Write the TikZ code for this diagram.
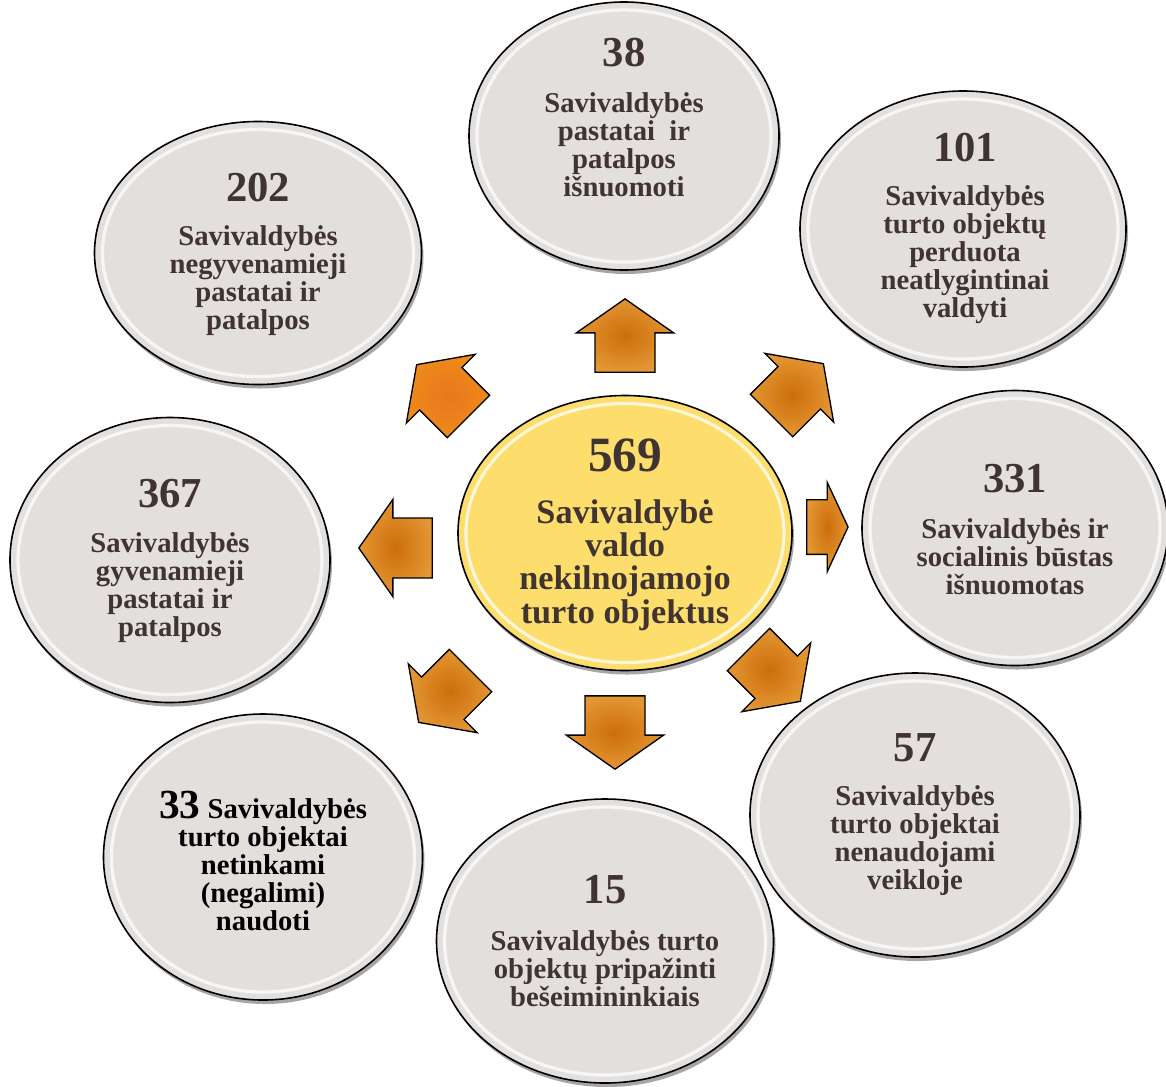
\documentclass[tikz,border=0pt]{standalone}
\usepackage{fontspec}
\setmainfont{Liberation Serif}
\usetikzlibrary{shapes.geometric,shapes.arrows,shadows}

\definecolor{bubgray}{RGB}{227,223,221}
\definecolor{bubyellow}{RGB}{253,221,108}
\definecolor{txtbrown}{RGB}{64,52,50}
\definecolor{arrorange}{RGB}{203,110,10}
\definecolor{arrlight}{RGB}{228,150,52}
\definecolor{arrbright}{RGB}{234,118,30}

\begin{document}
\begin{tikzpicture}[
  x=0.75pt, y=-0.75pt,
  text=txtbrown,
  bub/.style 2 args={ellipse, draw=black, line width=1.2pt, fill=bubgray, inner sep=0pt,
              minimum width=#1*0.75pt, minimum height=#2*0.75pt,
              drop shadow={shadow xshift=1.5pt, shadow yshift=-3pt, opacity=.35, fill=black},
              path picture={\draw[white, line width=2.4pt, opacity=.75]
                (path picture bounding box.center) ellipse [x radius=#1*0.375pt-6pt, y radius=#2*0.375pt-6pt];}},
  num/.style={font=\fontsize{32}{32}\bfseries\selectfont, inner sep=0pt},
  lbl/.style={font=\fontsize{21.5}{21}\bfseries\selectfont, align=center, inner sep=0pt},
  cnum/.style={font=\fontsize{37}{37}\bfseries\selectfont, inner sep=0pt},
  clbl/.style={font=\fontsize{25.7}{25}\bfseries\selectfont, align=center, inner sep=0pt},
  arr/.style={single arrow, draw=black, line width=1pt, inner xsep=0pt, inner ysep=22pt,
              single arrow head extend=14pt, single arrow tip angle=110, minimum height=55pt,
              inner color=arrorange, outer color=arrlight},
  arrflat/.style={arr, inner ysep=20pt, single arrow head extend=13pt,
              single arrow tip angle=130, minimum height=31pt},
]
\useasboundingbox (0,0) rectangle (1166,1086);

% ---------------- Outer ellipses ----------------
\node[bub={310}{268}] (e38)  at (624,136) {};
\node[bub={326}{276}] (e101) at (963,229) {};
\node[bub={327}{263}] (e202) at (258,253) {};
\node[bub={306}{275}] (e331) at (1015,528) {};
\node[bub={320}{285}] (e367) at (170,560) {};
\node[bub={330}{284}] (e57)  at (915,815) {};
\node[bub={337}{284}] (e15)  at (605,941) {};
\node[bub={319}{286}] (e33)  at (263,857) {};

% ---------------- Centre ----------------
\node[bub={334}{275}, fill=bubyellow] (emain) at (625,533) {};
\node[cnum] (n569) at (625,455) {569};
\node[clbl] (t569) at (625,565) {Savivaldybė\\valdo\\nekilnojamojo\\turto objektus};

% ---------------- Arrows ----------------
\node[arr, rotate=90]   (aN)  at (625,346) {};
\node[arr, rotate=45]   (aNE) at (790,397) {};
\node[arrflat]          (aE)  at (821,527) {};
\node[arr, rotate=-45]  (aSE) at (767,668) {};
\node[arr, rotate=-90]  (aS)  at (615,722) {};
\node[arr, rotate=-135] (aSW) at (452,689) {};
\node[arr, rotate=180]  (aW)  at (406,548) {};
\node[arr, rotate=135, inner color=arrbright, outer color=arrbright!85!yellow] (aNW) at (450,398) {};

% ---------------- Labels ----------------
\node[num] (n38)  at (624,53)  {38};
\node[lbl] (t38)  at (624,145) {Savivaldybės\\pastatai~ ir\\patalpos\\išnuomoti};
\node[num] (n101) at (965,148) {101};
\node[lbl] (t101) at (965,255) {Savivaldybės\\turto objektų\\perduota\\neatlygintinai\\valdyti};
\node[num] (n202) at (258,188) {202};
\node[lbl] (t202) at (258,281) {Savivaldybės\\negyvenamieji\\pastatai ir\\patalpos};
\node[num] (n331) at (1015,479) {331};
\node[lbl] (t331) at (1015,557) {Savivaldybės ir\\socialinis būstas\\išnuomotas};
\node[num] (n367) at (170,494) {367};
\node[lbl] (t367) at (170,588) {Savivaldybės\\gyvenamieji\\pastatai ir\\patalpos};
\node[num] (n57)  at (915,748) {57};
\node[lbl] (t57)  at (915,841) {Savivaldybės\\turto objektai\\nenaudojami\\veikloje};
\node[num] (n15)  at (605,890) {15};
\node[lbl] (t15)  at (605,969) {Savivaldybės turto\\objektų pripažinti\\bešeimininkiais};
\node[lbl, text=black] (t33) at (263,861)
  {{\fontsize{31}{21}\selectfont 33} Savivaldybės\\turto objektai\\netinkami\\(negalimi)\\naudoti};

\end{tikzpicture}
\end{document}
